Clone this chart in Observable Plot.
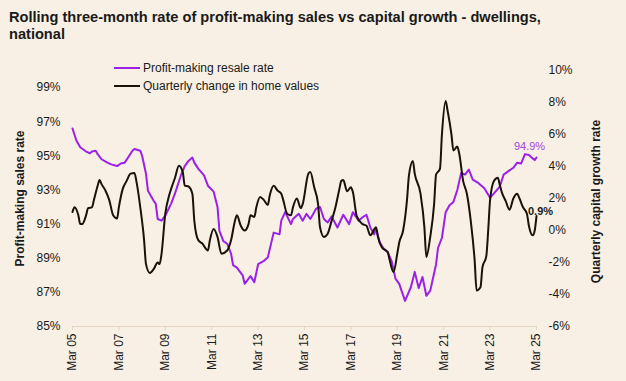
<!DOCTYPE html>
<html><head><meta charset="utf-8">
<script src="https://cdn.jsdelivr.net/npm/d3@7"></script>
<script src="https://cdn.jsdelivr.net/npm/@observablehq/plot@0.6"></script>
<style>
html,body{margin:0;padding:0;background:#f8f0e4;}
#wrap{position:relative;width:626px;height:381px;background:#f8f0e4;font-family:"Liberation Sans",Arial,sans-serif;color:#1a1a1a;overflow:hidden}
#title{position:absolute;left:9px;top:9px;font-weight:bold;font-size:14.6px;line-height:16.7px;white-space:nowrap}
#chart{position:absolute;left:0;top:0}
.leg{position:absolute;left:114px;font-size:12px;height:14px;line-height:14px;white-space:nowrap}
.leg i{display:inline-block;width:26px;height:2px;vertical-align:middle;margin-right:3px;position:relative;top:-1px}
</style></head>
<body>
<div id="wrap">
  <div id="title">Rolling three-month rate of profit-making sales vs capital growth - dwellings,<br>national</div>
  <div id="chart"></div>
  <div class="leg" style="top:61px"><i style="background:#9b20e8"></i>Profit-making resale rate</div>
  <div class="leg" style="top:79px"><i style="background:#1a120a"></i>Quarterly change in home values</div>
</div>
<script>
// Month offsets from March 2005
const pM = [0,2,4,7,9,10,12,13,15,18,20,23,25,27,29,31,32,35,36,38,39,42,43,44,46,48,51,53,56,58,60,62,63,65,68,70,73,75,76,78,80,82,83,85,88,89,92,94,96,99,101,104,107,108,110,113,114,117,119,121,123,126,128,130,132,134,137,140,143,145,148,150,152,154,156,157,159,161,163,165,167,169,172,175,177,179,181,183,185,188,189,191,193,195,197,199,201,203,205,207,210,213,216,218,221,223,226,228,230,232,234,236,238,239,240];
const pV = [96.6,95.9,95.5,95.25,95.15,95.25,95.3,95.1,94.8,94.6,94.5,94.4,94.55,94.6,94.95,95.3,95.4,95.3,95.0,93.95,92.95,92.35,92.2,91.3,91.2,91.5,92.2,92.8,93.85,94.4,94.7,94.9,94.6,94.25,93.85,93.25,92.9,92.0,90.6,90.0,89.85,89.25,88.6,88.45,88.0,87.5,87.95,87.6,88.65,88.85,89.05,90.5,90.4,91.2,91.7,91.0,91.3,91.6,91.2,91.6,91.3,91.9,92.0,91.3,91.1,91.45,90.8,91.55,91.0,91.7,91.2,91.4,91.55,90.8,90.4,90.7,89.9,89.55,89.35,88.85,87.8,87.5,86.5,87.3,88.2,87.25,87.9,86.8,87.1,88.65,89.6,90.2,91.7,92.1,92.3,93.0,94.0,93.9,94.2,93.6,93.4,93.1,92.55,92.8,93.2,93.9,94.15,94.3,94.6,94.55,95.1,95.05,94.85,94.75,94.9];
const bM = [0,1,3,4,5,7,8,10,11,13,14,15,17,19,21,23,24,26,28,30,32,33,35,37,38,40,42,44,45,46,48,50,51,53,55,57,58,60,62,63,65,67,70,71,73,75,77,80,82,84,85,87,89,91,92,94,95,97,99,101,102,104,106,108,109,111,113,114,116,118,119,122,123,125,127,128,130,132,134,136,138,139,140,142,144,145,147,150,152,154,157,158,160,163,164,166,168,169,171,173,174,176,177,180,182,183,185,187,188,190,191,193,194,196,197,199,200,202,204,206,208,209,211,212,214,215,216,218,220,221,222,224,226,228,230,231,233,235,236,238,239,240];
const bV = [1.15,1.45,0.95,0.4,0.4,0.95,1.4,1.45,1.9,2.8,3.15,2.9,2.5,1.9,0.95,0.75,1.45,2.6,3.1,3.55,3.6,3.1,1.45,-0.6,-2.1,-2.65,-2.4,-2.0,-2.1,-1.45,1.05,2.2,2.6,3.3,4.05,3.65,2.8,2.75,2.3,0.6,-0.6,-0.8,-1.25,-0.6,0.1,-0.4,-1.45,-1.25,-0.6,0.6,0.95,0.3,0.0,0.4,0.95,0.85,1.45,2.1,1.9,1.6,2.2,2.8,2.5,2.3,1.9,1.05,0.95,1.45,2.0,1.4,1.65,3.55,3.65,2.7,1.65,0.2,-0.4,-0.2,0.6,1.45,2.6,3.1,3.15,2.45,2.7,2.4,0.9,0.4,0.3,-0.3,0.2,-0.4,-1.05,-1.35,-1.85,-2.6,-1.45,-0.75,0.0,1.9,3.45,4.35,3.55,2.3,0.2,-1.65,-0.4,1.65,3.5,3.85,6.0,8.1,7.5,6.0,5.0,5.25,4.8,3.1,2.3,0.6,-1.85,-3.75,-3.55,-2.3,-1.6,0.1,1.9,3.1,3.3,2.85,2.4,1.85,1.3,2.0,2.3,2.05,1.45,1.05,0.3,-0.3,0.0,0.9];
const xTickYears = [2005,2007,2009,2011,2013,2015,2017,2019,2021,2023,2025];
const leftTicks = [85,87,89,91,93,95,97,99];
const rightTicks = [-6,-4,-2,0,2,4,6,8,10];
const leftTitle = "Profit-making sales rate";
const rightTitle = "Quarterly capital growth rate";

const start = new Date(Date.UTC(2005, 2, 1));
const date = m => d3.utcMonth.offset(start, m);
const toLeft = v => 85 + (v + 6) * 15 / 16;
const fromLeft = y => Math.round((y - 85) * 16 / 15 - 6);
const purple = pM.map((m, i) => ({date: date(m), v: pV[i]}));
const black = bM.map((m, i) => ({date: date(m), v: bV[i], y: toLeft(bV[i])}));
const xTicks = xTickYears.map(y => new Date(Date.UTC(y, 2, 1)));

const chart = Plot.plot({
  width: 626, height: 381,
  marginLeft: 72, marginRight: 90, marginTop: 70, marginBottom: 55,
  style: {background: "transparent", fontFamily: "'Liberation Sans', Arial, sans-serif", fontSize: "12px", color: "#1a1a1a"},
  x: {type: "utc", domain: [date(0), date(240)]},
  y: {domain: [85, 100]},
  marks: [
    Plot.ruleY([85], {stroke: "#e6d8c2"}),
    Plot.axisX(xTicks, {tickFormat: d3.utcFormat("%b %y"), tickRotate: -90, tickSize: 4, tickPadding: 3, stroke: "#e3d5bf", label: null, fill: "#1a1a1a"}),
    Plot.axisY(leftTicks, {anchor: "left", tickFormat: d => d + "%", tickSize: 0, tickPadding: 12, label: null}),
    Plot.axisY(rightTicks.map(toLeft), {anchor: "right", tickFormat: d => fromLeft(d) + "%", tickSize: 0, tickPadding: 12, label: null}),
    Plot.text([leftTitle], {frameAnchor: "left", textAnchor: "middle", dx: -52, rotate: -90, fontWeight: "bold", fontSize: 12}),
    Plot.text([rightTitle], {frameAnchor: "right", textAnchor: "middle", dx: 60, dy: 3, rotate: -90, fontWeight: "bold", fontSize: 12}),
    Plot.line(purple, {x: "date", y: "v", stroke: "#9b20e8", strokeWidth: 2}),
    Plot.line(black, {x: "date", y: "y", stroke: "#1a120a", strokeWidth: 2, curve: "monotone-x"}),
    Plot.text(purple.slice(-1), {x: "date", y: "v", text: d => d.v.toFixed(1) + "%", dx: -7, dy: -11, fill: "#a445e0", fontSize: 11}),
    Plot.text(black.slice(-1), {x: "date", y: "y", text: d => d.v.toFixed(1) + "%", dx: 4, dy: -5, fontWeight: "bold", fontSize: 11})
  ]
});
document.getElementById("chart").appendChild(chart);
</script>
</body></html>
